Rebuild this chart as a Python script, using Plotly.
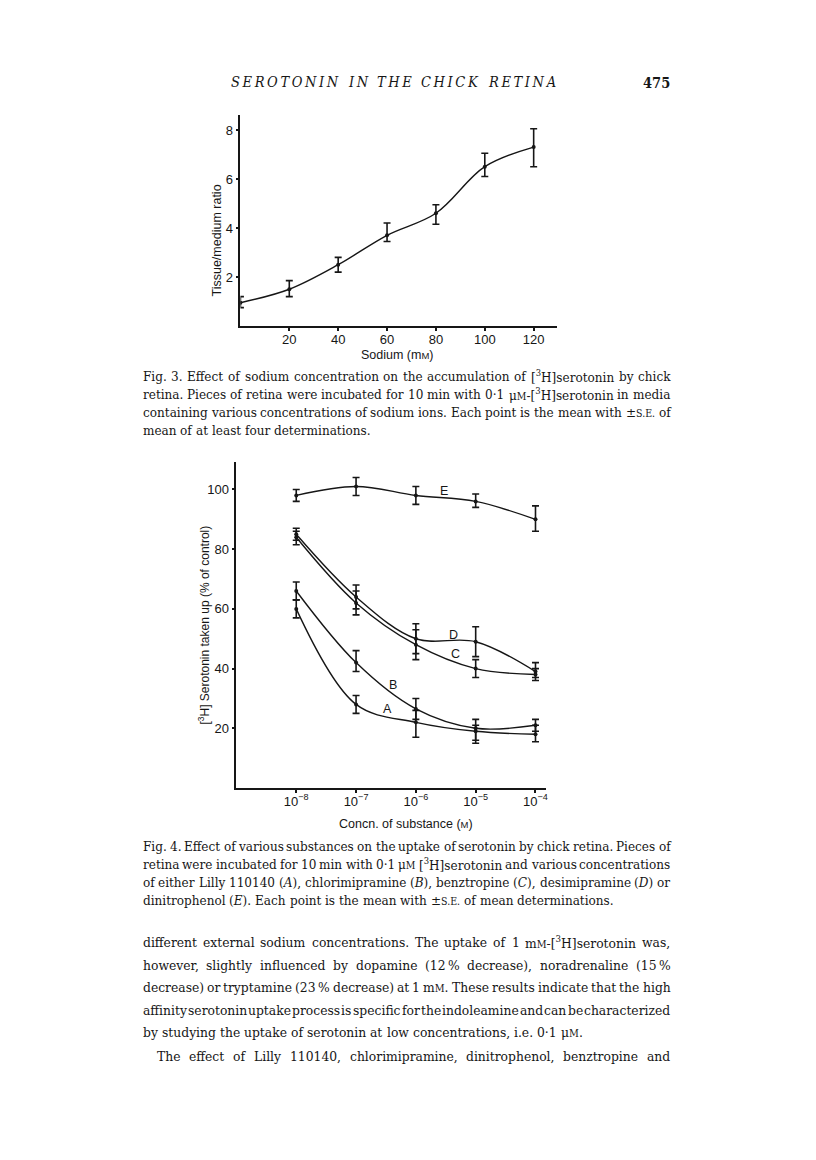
import re, glob
import plotly.graph_objects as go

PAGE_W, PAGE_H = 816, 1160
OFF = 8  # default body margin of the html page
W, H = PAGE_W - OFF, PAGE_H - OFF

# ---------------- Fig. 3 data ----------------
sodium_mM = [0, 20, 40, 60, 80, 100, 120]
ratio = [0.95, 1.5, 2.5, 3.7, 4.6, 6.5, 7.3]
ratio_err_hi = [0.25, 0.35, 0.3, 0.5, 0.35, 0.55, 0.75]
ratio_err_lo = [0.2, 0.3, 0.3, 0.25, 0.45, 0.4, 0.8]
fig3_xticks = [20, 40, 60, 80, 100, 120]
fig3_yticks = [2, 4, 6, 8]

# ---------------- Fig. 4 data ----------------
conc_M = [1e-8, 1e-7, 1e-6, 1e-5, 1e-4]
conc_labels = ["10<sup>−8</sup>", "10<sup>−7</sup>", "10<sup>−6</sup>", "10<sup>−5</sup>", "10<sup>−4</sup>"]
uptake_A = [60, 28, 22, 19, 18]
err_A_hi = [3, 3, 4, 2, 3]
err_A_lo = [3, 3, 5, 4, 2.5]
uptake_B = [66, 42, 26.5, 20, 21]
err_B_hi = [3, 4, 3.5, 3, 2]
err_B_lo = [3, 3, 3.5, 4, 2]
uptake_C = [84, 62, 48, 40, 38]
err_C_hi = [2, 4, 5, 3, 2]
err_C_lo = [2.5, 4, 5, 3, 2]
uptake_D = [85, 64, 50, 49, 39]
err_D_hi = [2, 4, 5, 5, 3]
err_D_lo = [2, 4, 5, 5, 2]
uptake_E = [98, 101, 98, 96, 90]
err_E_hi = [2, 3, 3, 2.5, 4.5]
err_E_lo = [2, 3, 3, 2, 4]
fig4_yticks = [20, 40, 60, 80, 100]
series_names = ["A", "B", "C", "D", "E"]
label_pos = {"A": (-6.47, 26.5), "B": (-6.38, 34.5), "C": (-5.33, 45.0), "D": (-5.37, 51.3), "E": (-5.53, 99.6)}

# ---------------- page text ----------------
header_title = "SEROTONIN IN THE CHICK RETINA"
page_number = "475"
fig3_caption = [
    "Fig. 3. Effect of sodium concentration on the accumulation of [<sup>3</sup>H]serotonin by chick",
    "retina. Pieces of retina were incubated for 10 min with 0·1 μ[[M]]-[<sup>3</sup>H]serotonin in media",
    "containing various concentrations of sodium ions. Each point is the mean with ±[[S.E.]] of",
    "mean of at least four determinations.",
]
fig4_caption = [
    "Fig. 4. Effect of various substances on the uptake of serotonin by chick retina. Pieces of",
    "retina were incubated for 10 min with 0·1 μ[[M]] [<sup>3</sup>H]serotonin and various concentrations",
    "of either Lilly 110140 (<i>A</i>), chlorimipramine (<i>B</i>), benztropine (<i>C</i>), desimipramine (<i>D</i>) or",
    "dinitrophenol (<i>E</i>). Each point is the mean with ±[[S.E.]] of mean determinations.",
]
body_text = [
    "different external sodium concentrations. The uptake of 1 m[[M]]-[<sup>3</sup>H]serotonin was,",
    "however, slightly influenced by dopamine (12\u2009% decrease), noradrenaline (15\u2009%",
    "decrease) or tryptamine (23\u2009% decrease) at 1 m[[M]]. These results indicate that the high",
    "affinity serotonin uptake process is specific for the indoleamine and can be characterized",
    "by studying the uptake of serotonin at low concentrations, i.e. 0·1 μ[[M]].",
    "The effect of Lilly 110140, chlorimipramine, dinitrophenol, benztropine and",
]


def X(px):
    return (px - OFF) / W


def Y(py):
    return 1 - (py - OFF) / H


SANS = "Liberation Sans"
INK = "#161616"

fig = go.Figure()

fig.add_trace(go.Scatter(
    x=sodium_mM, y=ratio, mode="lines+markers",
    line=dict(color=INK, width=1.4, shape="spline", smoothing=1.0),
    marker=dict(color=INK, size=4),
    error_y=dict(type="data", symmetric=False, array=ratio_err_hi, arrayminus=ratio_err_lo,
                 color=INK, thickness=1.6, width=3.5),
    xaxis="x", yaxis="y", showlegend=False, hoverinfo="skip"))

fig4_series = {
    "A": (uptake_A, err_A_hi, err_A_lo),
    "B": (uptake_B, err_B_hi, err_B_lo),
    "C": (uptake_C, err_C_hi, err_C_lo),
    "D": (uptake_D, err_D_hi, err_D_lo),
    "E": (uptake_E, err_E_hi, err_E_lo),
}
for name in series_names:
    vals, hi, lo = fig4_series[name]
    fig.add_trace(go.Scatter(
        x=conc_M, y=vals, mode="lines+markers", name=name,
        line=dict(color=INK, width=1.4, shape="spline", smoothing=1.0),
        marker=dict(color=INK, size=4),
        error_y=dict(type="data", symmetric=False, array=hi, arrayminus=lo,
                     color=INK, thickness=1.6, width=3.5),
        xaxis="x2", yaxis="y2", showlegend=False, hoverinfo="skip"))

axis_common = dict(showline=True, linecolor=INK, linewidth=1.8, ticks="outside", ticklen=3,
                   tickwidth=1.5, tickcolor=INK, showgrid=False, zeroline=False,
                   tickfont=dict(family=SANS, size=13, color=INK))

fig.update_layout(
    width=W, height=H, margin=dict(l=0, r=0, t=0, b=0),
    paper_bgcolor="white", plot_bgcolor="white",
    xaxis=dict(domain=[X(241), X(558)], range=[0, 129.4], tickvals=fig3_xticks,
               anchor="y", ticklabelstandoff=-3, **axis_common),
    yaxis=dict(domain=[Y(326), Y(115)], range=[0, 8.61], tickvals=fig3_yticks,
               anchor="x", **axis_common),
    xaxis2=dict(domain=[X(237), X(547)], type="log", range=[-9, -3.83], tickvals=conc_M,
                ticktext=conc_labels, anchor="y2", ticklabelstandoff=-3, **axis_common),
    yaxis2=dict(domain=[Y(788), Y(462)], range=[0, 109.2], tickvals=fig4_yticks,
                anchor="x2", **axis_common),
)

ann = []


def add_text(px, py, text, size, family=SANS, angle=0, xanchor="center", yanchor="middle"):
    ann.append(dict(x=X(px), y=Y(py), xref="paper", yref="paper", text=text, textangle=angle,
                    showarrow=False, xanchor=xanchor, yanchor=yanchor, borderpad=0, borderwidth=0,
                    font=dict(family=family, size=size, color=INK)))


# axis titles
add_text(218, 240, "Tissue/medium ratio", 12.5, angle=-90)
add_text(398, 355, "Sodium (m<span style='font-size:9.5px'>M</span>)", 12.5)
add_text(204, 625, "[<sup>3</sup>H] Serotonin taken up (% of control)", 12, angle=-90)
add_text(407, 824, "Concn. of substance (<span style='font-size:9.5px'>M</span>)", 12.5)
for name in series_names:
    lx, ly = label_pos[name]
    ann.append(dict(x=lx, y=ly, xref="x2", yref="y2", text=name, showarrow=False,
                    xanchor="center", yanchor="middle",
                    font=dict(family=SANS, size=12.5, color=INK)))

# ---------------- text metrics (for justification) ----------------
HAVE = False
SERIF = "DejaVu Serif"
try:
    from PIL import ImageFont

    def _find(name):
        for p in glob.glob("/usr/share/fonts/**/" + name, recursive=True):
            return p
        return None
    REG = _find("DejaVuSerifCondensed.ttf")
    if REG:
        SERIF = "DejaVu Serif Condensed"
        ITA = _find("DejaVuSerifCondensed-Italic.ttf") or REG
    else:
        REG = _find("DejaVuSerif.ttf")
        ITA = _find("DejaVuSerif-Italic.ttf") or REG
    if REG:
        F_REG = ImageFont.truetype(REG, 100)
        F_ITA = ImageFont.truetype(ITA, 100)
        HAVE = True
except Exception:
    HAVE = False

TAG = re.compile(r"(<sup>|</sup>|<i>|</i>|<span style='font-size:[\d.]+px'>|</span>)")


def measure(tok, size, italic=False):
    plain = re.sub(r"<[^>]+>", "", tok)
    if not HAVE:
        return len(plain) * size * 0.52
    sizes = [size]
    ital = italic
    w = 0.0
    for part in TAG.split(tok):
        if not part:
            continue
        if part == "<sup>":
            sizes.append(sizes[-1] * 0.7)
        elif part in ("</sup>", "</span>"):
            if len(sizes) > 1:
                sizes.pop()
        elif part == "<i>":
            ital = True
        elif part == "</i>":
            ital = italic
        elif part.startswith("<span"):
            sizes.append(float(re.findall(r"[\d.]+", part)[0]))
        else:
            f = F_ITA if ital else F_REG
            w += f.getlength(part) * sizes[-1] / 100.0
    return w


def expand(text, size):
    return re.sub(r"\[\[(.+?)\]\]",
                  lambda m: "<span style='font-size:%.2fpx'>%s</span>" % (size * 0.78, m.group(1)), text)


SPLIT = re.compile(r" (?![^<]*>)")
LEFT, RIGHT = 143, 672


def natural(text, size, gap_em):
    words = SPLIT.split(expand(text, size))
    return sum(measure(w, size) for w in words) + (len(words) - 1) * gap_em * size


def place_line(text, py, size, justify=True, x0=LEFT, x1=RIGHT, italic=False):
    text = expand(text, size)
    words = SPLIT.split(text)
    widths = [measure(w, size, italic) for w in words]
    if justify and len(words) > 1:
        gap = (x1 - x0 - sum(widths)) / (len(words) - 1)
    else:
        gap = 0.3 * size
    if not HAVE:
        add_text(x0, py, text, size, family=SERIF, xanchor="left")
        return
    cx = x0
    for w, wd in zip(words, widths):
        t = "<i>%s</i>" % w if italic else w
        add_text(cx, py, t, size, family=SERIF, xanchor="left")
        cx += wd + gap


# font sizes solved so that the tightest lines fill the measure
BODY = (RIGHT - LEFT) / natural(body_text[3], 10.0, 0.09) * 10.0
cap_lines = fig3_caption[:3] + fig4_caption[:3]
CAP = (RIGHT - LEFT) / max(natural(t, 10.0, 0.24) for t in cap_lines) * 10.0

cap3_y = [376, 394, 412, 430]
cap4_y = [846, 864, 882, 900]
body_y = [942, 964.5, 987, 1009.5, 1032, 1056]

for i, (t, py) in enumerate(zip(fig3_caption, cap3_y)):
    place_line(t, py, CAP, justify=(i < len(fig3_caption) - 1))
for i, (t, py) in enumerate(zip(fig4_caption, cap4_y)):
    place_line(t, py, CAP, justify=(i < len(fig4_caption) - 1))
for i, (t, py) in enumerate(zip(body_text, body_y)):
    x0 = 157 if i == 5 else LEFT
    place_line(t, py, BODY, justify=(i != 4), x0=x0)

# running header (letter-spaced italic capitals) and page number
HEAD = 14.5
spaced = " ".join("\u2009".join(list(wd)) for wd in header_title.split(" "))
place_line(spaced, 82, HEAD, justify=True, x0=232, x1=556, italic=True)
ann.append(dict(x=X(RIGHT), y=Y(82), xref="paper", yref="paper", text="<b>%s</b>" % page_number,
                showarrow=False, xanchor="right", yanchor="middle", borderpad=0, borderwidth=0,
                font=dict(family=SERIF, size=14.5, color=INK)))

fig.update_layout(annotations=ann)
fig.write_html("out.html")
